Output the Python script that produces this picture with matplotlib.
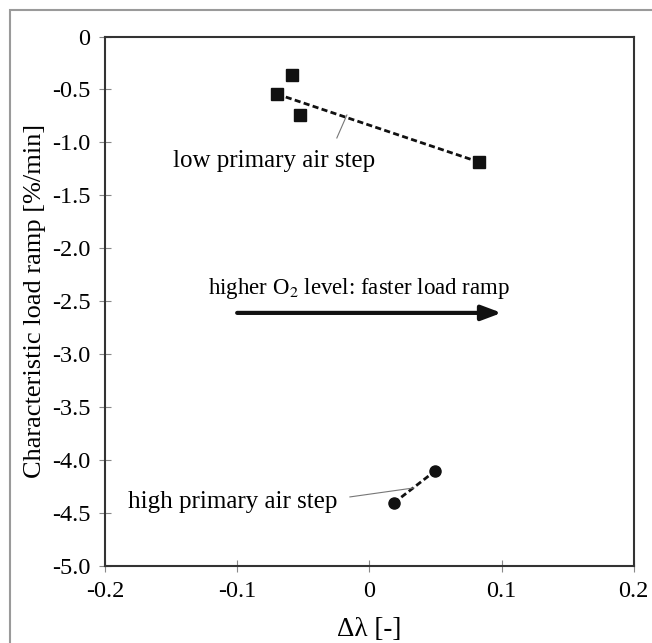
import matplotlib
matplotlib.use("Agg")
import matplotlib.pyplot as plt
from matplotlib.patches import Rectangle

plt.rcParams['font.family'] = ['Liberation Serif', 'DejaVu Serif']

# low primary air step (squares)
low_x = [-0.0586, -0.070, -0.0526, 0.0828]
low_y = [-0.364, -0.543, -0.741, -1.185]
low_trend_x = [-0.070, 0.0828]
low_trend_y = [-0.543, -1.185]

# high primary air step (circles)
high_x = [0.0185, 0.050]
high_y = [-4.405, -4.10]

x_ticks = [-0.2, -0.1, 0, 0.1, 0.2]
x_labels = ['-0.2', '-0.1', '0', '0.1', '0.2']
y_ticks = [0, -0.5, -1.0, -1.5, -2.0, -2.5, -3.0, -3.5, -4.0, -4.5, -5.0]
y_labels = ['0', '-0.5', '-1.0', '-1.5', '-2.0', '-2.5', '-3.0', '-3.5', '-4.0', '-4.5', '-5.0']

fig = plt.figure(figsize=(6.52, 6.43), dpi=100)
ax = fig.add_axes([0.161, 0.1198, 0.811, 0.8234])

# outer frame
fig.patches.append(Rectangle((10 / 652, -0.1), 1.2, 1 - 10 / 643 + 0.1,
                             transform=fig.transFigure, fill=False,
                             edgecolor='#9a9a9a', linewidth=1.5))

ax.plot(low_trend_x, low_trend_y, linestyle=(0, (2.2, 1.2)), color='#111111', linewidth=2)
ax.plot(low_x, low_y, 's', color='#111111', markersize=8, linestyle='none')
ax.plot(high_x, high_y, linestyle=(0, (2.2, 1.2)), color='#111111', linewidth=2)
ax.plot(high_x, high_y, 'o', color='#111111', markersize=8, linestyle='none')

# labels with leader lines
ax.text(-0.1486, -1.175, 'low primary air step', fontsize=18, va='center', ha='left')
ax.plot([-0.0246, -0.0170], [-0.958, -0.741], color='#777777', linewidth=0.8)
ax.text(-0.1826, -4.396, 'high primary air step', fontsize=18, va='center', ha='left')
ax.plot([-0.0147, 0.0336], [-4.348, -4.263], color='#777777', linewidth=0.8)

ax.text(-0.122, -2.384, 'higher O$_2$ level: faster load ramp', fontsize=16.5,
        va='center', ha='left', math_fontfamily='stix')
ax.annotate('', xy=(0.100, -2.61), xytext=(-0.100, -2.61),
            arrowprops=dict(arrowstyle='-|>,head_length=1.2,head_width=0.45',
                            color='#111111', linewidth=3, shrinkA=0, shrinkB=0))

ax.set_xlim(-0.2, 0.2)
ax.set_ylim(-5.0, 0)
ax.set_xticks(x_ticks)
ax.set_xticklabels(x_labels, fontsize=17.5)
ax.set_yticks(y_ticks)
ax.set_yticklabels(y_labels, fontsize=17.5)
ax.tick_params(direction='inout', length=9, width=0.8, color='#888888')
ax.tick_params(axis='y', pad=6)
ax.tick_params(axis='x', pad=6)
for s in ax.spines.values():
    s.set_color('#333333')
    s.set_linewidth(1.5)

ax.set_xlabel('Δλ [-]', fontsize=19.5, labelpad=11)
ax.set_ylabel('Characteristic load ramp [%/min]', fontsize=19, labelpad=4)

fig.savefig('out.png', dpi=100)
